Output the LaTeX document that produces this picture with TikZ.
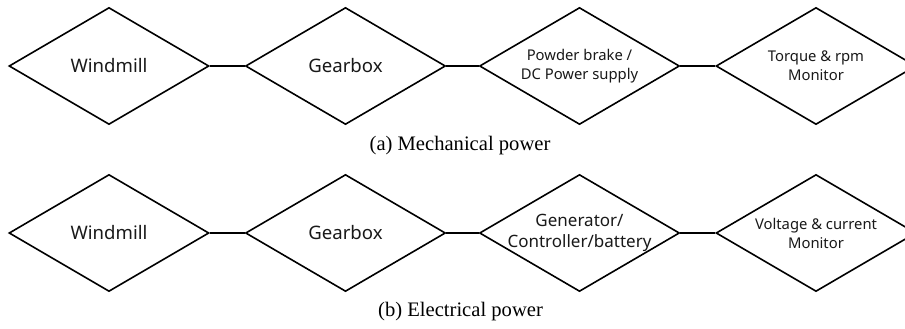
\documentclass[tikz,border=0pt]{standalone}
\usepackage{fontspec}
\setmainfont{Liberation Serif}
\newfontfamily\lblfont{Noto Sans}
\usetikzlibrary{shapes.geometric}
\begin{document}
\begin{tikzpicture}[x=0.5pt,y=-0.5pt,
  dia/.style={draw, line width=0.8pt, diamond, minimum width=100pt, minimum height=58.5pt,
    inner sep=0pt},
  bigtxt/.style={align=center, text=black!90, inner sep=0pt, font=\lblfont\fontsize{9.3}{11}\selectfont},
  smalltxt/.style={align=center, text=black!90, inner sep=0pt, font=\lblfont\fontsize{7.4}{9.5}\selectfont},
  midtxt/.style={align=center, text=black!90, inner sep=0pt, font=\lblfont\fontsize{8.5}{10.5}\selectfont},
  link/.style={line width=0.8pt},
  captext/.style={font=\fontsize{10.3}{12}\selectfont, inner sep=0pt}
]
\clip (0,0) rectangle (905,328);
\fill[white] (0,0) rectangle (905,328);
% row (a)
\node[dia, label={[bigtxt]center:Windmill}] (a1) at (109,66) {};
\node[dia, label={[bigtxt]center:Gearbox}] (a2) at (345.5,66) {};
\node[dia, label={[smalltxt]center:{Powder brake /\\DC Power supply}}] (a3) at (579.5,66) {};
\node[dia, label={[smalltxt]center:{Torque \& rpm\\Monitor}}] (a4) at (816,66) {};
\draw[link] (a1.east) -- (a2.west);
\draw[link] (a2.east) -- (a3.west);
\draw[link] (a3.east) -- (a4.west);
\node[captext] (capa) at (460,146) {(a) Mechanical power};
% row (b)
\node[dia, label={[bigtxt]center:Windmill}] (b1) at (109,233) {};
\node[dia, label={[bigtxt]center:Gearbox}] (b2) at (345.5,233) {};
\node[dia, label={[midtxt]center:{Generator/\\Controller/battery}}] (b3) at (579.5,233) {};
\node[dia, label={[smalltxt]center:{Voltage \& current\\Monitor}}] (b4) at (816,233) {};
\draw[link] (b1.east) -- (b2.west);
\draw[link] (b2.east) -- (b3.west);
\draw[link] (b3.east) -- (b4.west);
\node[captext] (capb) at (460.5,312) {(b) Electrical power};
\end{tikzpicture}
\end{document}
